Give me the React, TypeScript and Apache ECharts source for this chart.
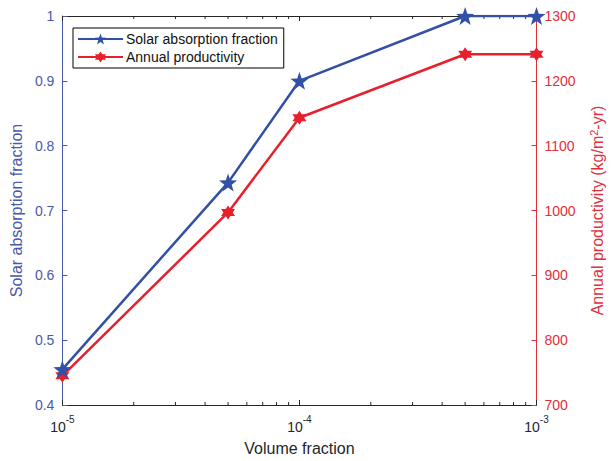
import React, { useEffect, useRef } from "react";
import * as echarts from "echarts";

const volumeFraction = [1e-5, 5e-5, 1e-4, 5e-4, 1e-3];
const solarAbsorption = [0.455, 0.743, 0.9, 1.0, 1.0];
const annualProductivity = [745, 997, 1143, 1241, 1241];
const minorTicks = [2e-5, 3e-5, 4e-5, 5e-5, 6e-5, 7e-5, 8e-5, 9e-5, 2e-4, 3e-4, 4e-4, 5e-4, 6e-4, 7e-4, 8e-4, 9e-4];

const BLUE = "#3150a6";
const BLUE_TEXT = "#4a5aa8";
const RED = "#e8202c";
const RED_TEXT = "#e0303c";
const FONT = "Liberation Sans";

function starPath(points: number, inner: number): string {
  const pts: string[] = [];
  for (let i = 0; i < points * 2; i++) {
    const r = i % 2 === 0 ? 1 : inner;
    const a = -Math.PI / 2 + (i * Math.PI) / points;
    pts.push(`${(Math.cos(a) * r * 10 + 10).toFixed(3)} ${(Math.sin(a) * r * 10 + 10).toFixed(3)}`);
  }
  return "path://M" + pts.join(" L") + " Z";
}

export default function App() {
  const ref = useRef<HTMLDivElement>(null);
  useEffect(() => {
    if (!ref.current) return;
    const chart = echarts.init(ref.current, undefined, { renderer: "svg" });
    const pentagram = starPath(5, 0.4);
    const hexagram = starPath(6, 0.58);
    const expLabel = (v: number) => `{b|10}{s|${Math.round(Math.log10(v))}}`;
    chart.setOption({
      animation: false,
      backgroundColor: "#ffffff",
      textStyle: { fontFamily: FONT },
      legend: {
        left: 73,
        top: 28,
        orient: "vertical",
        backgroundColor: "#ffffff",
        borderColor: "#000000",
        borderWidth: 1,
        borderRadius: 0,
        padding: [4, 6, 4, 4],
        itemGap: 4,
        itemWidth: 45,
        itemHeight: 14,
        textStyle: { fontFamily: FONT, fontSize: 14, color: "#111111", padding: [0, 0, 0, -2] },
        data: ["Solar absorption fraction", "Annual productivity"],
      },
      grid: { left: 60, right: 69, top: 16, bottom: 55, containLabel: false },
      xAxis: [
        {
          type: "log",
          logBase: 10,
          min: 1e-5,
          max: 1e-3,
          position: "bottom",
          name: "Volume fraction",
          nameLocation: "middle",
          nameGap: 35,
          nameTextStyle: { fontFamily: FONT, fontSize: 16, color: "#262626" },
          axisLine: { lineStyle: { color: "#262626", width: 1 } },
          axisTick: { inside: true, length: 5, lineStyle: { color: "#262626" } },
          splitLine: { show: false },
          axisLabel: {
            margin: 9,
            formatter: expLabel,
            rich: {
              b: { fontFamily: FONT, fontSize: 14, color: "#262626", padding: [6, 0, 0, 0] },
              s: { fontFamily: FONT, fontSize: 10, color: "#262626", verticalAlign: "top", padding: [0, 0, 0, 0] },
            },
          },
        },
        {
          type: "log",
          logBase: 10,
          min: 1e-5,
          max: 1e-3,
          position: "top",
          axisLine: { lineStyle: { color: "#262626", width: 1 } },
          axisTick: { inside: true, length: 5, lineStyle: { color: "#262626" } },
          axisLabel: { show: false },
          splitLine: { show: false },
        },
      ],
      yAxis: [
        {
          type: "value",
          min: 0.4,
          max: 1,
          interval: 0.1,
          position: "left",
          name: "Solar absorption fraction",
          nameLocation: "middle",
          nameGap: 34,
          nameTextStyle: { fontFamily: FONT, fontSize: 16, color: BLUE_TEXT },
          axisLine: { show: true, lineStyle: { color: BLUE_TEXT, width: 1 } },
          axisTick: { show: true, inside: true, length: 5, lineStyle: { color: BLUE_TEXT } },
          splitLine: { show: false },
          axisLabel: {
            margin: 8,
            fontFamily: FONT,
            fontSize: 14,
            color: BLUE_TEXT,
            formatter: (v: number) => (Math.abs(v - 1) < 1e-9 ? "1" : v.toFixed(1)),
          },
        },
        {
          type: "value",
          min: 700,
          max: 1300,
          interval: 100,
          position: "right",
          name: "{a|Annual productivity (kg/m}{s|2}{a|-yr)}",
          nameLocation: "middle",
          nameGap: 52,
          nameTextStyle: {
            fontFamily: FONT,
            fontSize: 16,
            color: RED_TEXT,
            rich: {
              a: { fontFamily: FONT, fontSize: 16, color: RED_TEXT },
              s: { fontFamily: FONT, fontSize: 11, color: RED_TEXT, verticalAlign: "top", padding: [0, 0, 6, 0] },
            },
          },
          axisLine: { show: true, lineStyle: { color: RED_TEXT, width: 1 } },
          axisTick: { show: true, inside: true, length: 5, lineStyle: { color: RED_TEXT } },
          splitLine: { show: false },
          axisLabel: {
            margin: 8,
            fontFamily: FONT,
            fontSize: 14,
            color: RED_TEXT,
            formatter: (v: number) => String(Math.round(v)),
          },
        },
      ],
      series: [
        {
          name: "minor",
          type: "custom",
          xAxisIndex: 0,
          yAxisIndex: 0,
          silent: true,
          legendHoverLink: false,
          data: minorTicks.map((v) => [v]),
          renderItem: (params: any, api: any) => {
            const x = api.value(0);
            const bottom = api.coord([x, 0.4]);
            const top = api.coord([x, 1]);
            const style = { stroke: "#262626", lineWidth: 1 };
            return {
              type: "group",
              children: [
                { type: "line", shape: { x1: bottom[0], y1: bottom[1], x2: bottom[0], y2: bottom[1] - 3 }, style },
                { type: "line", shape: { x1: top[0], y1: top[1], x2: top[0], y2: top[1] + 3 }, style },
              ],
            };
          },
          z: 1,
        },
        {
          name: "Annual productivity",
          type: "line",
          xAxisIndex: 0,
          yAxisIndex: 1,
          data: volumeFraction.map((v, i) => [v, annualProductivity[i]]),
          symbol: hexagram,
          symbolSize: 14,
          lineStyle: { color: RED, width: 2.5 },
          itemStyle: { color: RED },
          z: 3,
        },
        {
          name: "Solar absorption fraction",
          type: "line",
          xAxisIndex: 0,
          yAxisIndex: 0,
          data: volumeFraction.map((v, i) => [v, solarAbsorption[i]]),
          symbol: pentagram,
          symbolSize: 18,
          lineStyle: { color: BLUE, width: 2.5 },
          itemStyle: { color: BLUE },
          z: 4,
        },
      ],
    });
    return () => chart.dispose();
  }, []);
  return <div ref={ref} style={{ width: 613, height: 461, position: "absolute", left: 0, top: 0 }} />;
}
